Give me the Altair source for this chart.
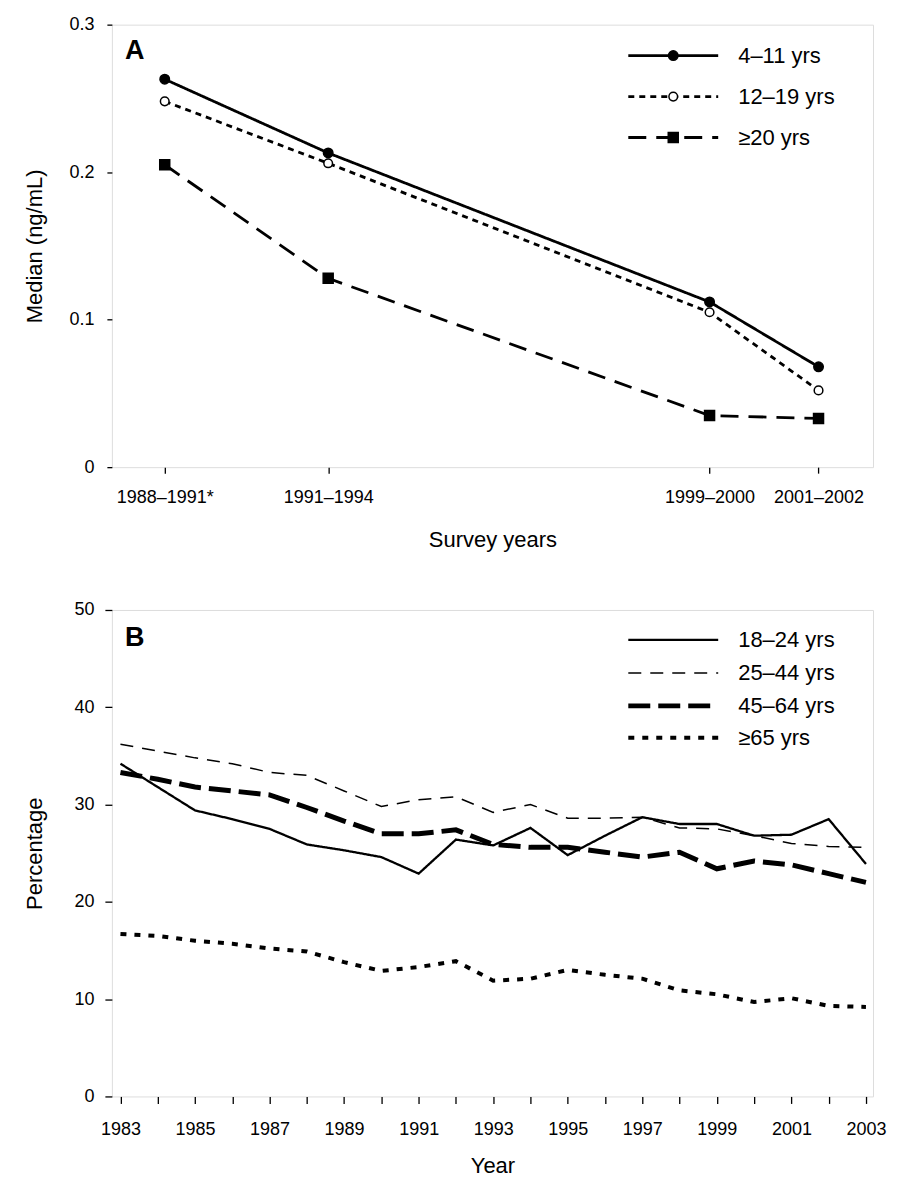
import altair as alt
import pandas as pd

FONT = "Liberation Sans"

# ---------------- Panel A data ----------------
survey_labels = ["1988–1991*", "1991–1994", "1999–2000", "2001–2002"]
survey_mid = [1989.5, 1992.5, 1999.5, 2001.5]
a_names = ["4–11 yrs", "12–19 yrs", "≥20 yrs"]
a_4_11 = [0.263, 0.213, 0.112, 0.068]
a_12_19 = [0.248, 0.206, 0.105, 0.052]
a_20_plus = [0.205, 0.128, 0.035, 0.033]

# ---------------- Panel B data ----------------
years = list(range(1983, 2004))
b_names = ["18–24 yrs", "25–44 yrs", "45–64 yrs", "≥65 yrs"]
b_18_24 = [34.2, 31.8, 29.4, 28.5, 27.5, 25.9, 25.3, 24.6, 22.9, 26.4, 25.8,
           27.6, 24.8, 26.8, 28.7, 28.0, 28.0, 26.8, 26.9, 28.5, 23.9]
b_25_44 = [36.2, 35.5, 34.8, 34.2, 33.3, 33.0, 31.4, 29.8, 30.5, 30.8, 29.2,
           30.0, 28.6, 28.6, 28.7, 27.6, 27.5, 26.8, 26.0, 25.7, 25.6]
b_45_64 = [33.3, 32.6, 31.8, 31.4, 31.0, 29.7, 28.3, 27.0, 27.0, 27.4, 25.9,
           25.6, 25.6, 25.1, 24.6, 25.1, 23.4, 24.2, 23.8, 22.9, 22.0]
b_65_plus = [16.7, 16.5, 16.0, 15.7, 15.2, 14.9, 13.8, 12.9, 13.3, 13.9, 11.9,
             12.1, 13.0, 12.5, 12.1, 10.9, 10.5, 9.7, 10.1, 9.3, 9.2]

axis_common = dict(
    grid=False, domain=False, tickColor="black", tickWidth=1.3,
    labelColor="black", labelFont=FONT, labelFontSize=18,
    titleFont=FONT, titleFontSize=22, titleFontWeight="normal", titleColor="black",
    labelFlush=False, labelOverlap=False,
)

# ---------------- Panel A ----------------
label_expr_a = " : ".join(
    f"datum.value == {m} ? '{l}'" for m, l in zip(survey_mid, survey_labels)
) + " : ''"

xA = alt.X("x:Q",
           scale=alt.Scale(domain=[1988.53, 2002.5], nice=False, zero=False),
           axis=alt.Axis(values=survey_mid, labelExpr=label_expr_a, title="Survey years",
                         tickSize=6, labelPadding=15, titlePadding=23, **axis_common))
yA = alt.Y("y:Q",
           scale=alt.Scale(domain=[0, 0.3], nice=False),
           axis=alt.Axis(values=[0, 0.1, 0.2, 0.3],
                         labelExpr="datum.value == 0 ? '0' : format(datum.value, '.1f')",
                         title="Median (ng/mL)", tickSize=5, labelPadding=13,
                         titlePadding=22, **axis_common))

a_styles = [
    dict(dash=[1, 0], sw=2.8, shape="circle", fill="black", size=90),
    dict(dash=[6, 5], sw=2.8, shape="circle", fill="white", size=75),
    dict(dash=[18, 10], sw=2.8, shape="square", fill="black", size=100),
]
a_values = [a_4_11, a_12_19, a_20_plus]

a_layers = []
for vals, st in zip(a_values, a_styles):
    df = pd.DataFrame({"x": survey_mid, "y": vals})
    a_layers.append(alt.Chart(df).mark_line(color="black", strokeDash=st["dash"],
                                            strokeWidth=st["sw"]).encode(x=xA, y=yA))
for vals, st in zip(a_values, a_styles):
    df = pd.DataFrame({"x": survey_mid, "y": vals})
    a_layers.append(alt.Chart(df).mark_point(shape=st["shape"], filled=True, fill=st["fill"],
                                             stroke="black", strokeWidth=1.5, size=st["size"],
                                             opacity=1).encode(x=xA, y=yA))

# legend A
leg_rows_a = [31, 72, 113]
for name, st, ry in zip(a_names, a_styles, leg_rows_a):
    d = pd.DataFrame({"label": [name]})
    a_layers.append(alt.Chart(d).mark_rule(color="black", strokeDash=st["dash"],
                                           strokeWidth=st["sw"]).encode(
        x=alt.value(517), x2=alt.value(607), y=alt.value(ry)))
    a_layers.append(alt.Chart(d).mark_point(shape=st["shape"], filled=True, fill=st["fill"],
                                            stroke="black", strokeWidth=1.5, size=st["size"],
                                            opacity=1).encode(
        x=alt.value(562), y=alt.value(ry)))
    a_layers.append(alt.Chart(d).mark_text(align="left", baseline="middle", font=FONT,
                                           fontSize=22, color="black").encode(
        x=alt.value(627), y=alt.value(ry), text="label:N"))

a_layers.append(alt.Chart(pd.DataFrame({"t": ["A"]})).mark_text(
    font=FONT, fontSize=27, fontWeight="bold", color="black", align="center",
    baseline="middle").encode(x=alt.value(23), y=alt.value(26), text="t:N"))

chartA = alt.layer(*a_layers).properties(width=762, height=443)

# ---------------- Panel B ----------------
xB = alt.X("year:Q",
           scale=alt.Scale(domain=[1982.77, 2003.19], nice=False, zero=False),
           axis=alt.Axis(values=years, format="d",
                         labelExpr="datum.value % 2 == 1 ? datum.label : ''",
                         title="Year", tickSize=7, labelPadding=17, titlePadding=17,
                         **axis_common))
yB = alt.Y("value:Q",
           scale=alt.Scale(domain=[0, 50], nice=False),
           axis=alt.Axis(values=[0, 10, 20, 30, 40, 50], title="Percentage",
                         tickSize=7, labelPadding=11, titlePadding=27, **axis_common))

b_styles = [
    dict(dash=[1, 0], sw=2.3),
    dict(dash=[13, 9], sw=1.5),
    dict(dash=[22, 8], sw=5),
    dict(dash=[6, 8], sw=4),
]
b_values = [b_18_24, b_25_44, b_45_64, b_65_plus]

b_layers = []
for vals, st in zip(b_values, b_styles):
    df = pd.DataFrame({"year": years, "value": vals})
    b_layers.append(alt.Chart(df).mark_line(color="black", strokeDash=st["dash"],
                                            strokeWidth=st["sw"]).encode(x=xB, y=yB))

leg_rows_b = [30, 63, 96, 128]
for name, st, ry in zip(b_names, b_styles, leg_rows_b):
    d = pd.DataFrame({"label": [name]})
    b_layers.append(alt.Chart(d).mark_rule(color="black", strokeDash=st["dash"],
                                           strokeWidth=st["sw"]).encode(
        x=alt.value(517), x2=alt.value(607), y=alt.value(ry)))
    b_layers.append(alt.Chart(d).mark_text(align="left", baseline="middle", font=FONT,
                                           fontSize=22, color="black").encode(
        x=alt.value(627), y=alt.value(ry), text="label:N"))

b_layers.append(alt.Chart(pd.DataFrame({"t": ["B"]})).mark_text(
    font=FONT, fontSize=27, fontWeight="bold", color="black", align="center",
    baseline="middle").encode(x=alt.value(23), y=alt.value(28), text="t:N"))

chartB = alt.layer(*b_layers).properties(width=762, height=487)

chart = alt.vconcat(chartA, chartB, spacing=143, bounds="flush").properties(
    padding={"left": 15, "top": 6, "right": 5, "bottom": 5},
    background="white",
).configure_view(stroke="black", strokeWidth=1.5).configure(font=FONT)

chart.save("out.html", embed_options={"renderer": "svg", "actions": False})
